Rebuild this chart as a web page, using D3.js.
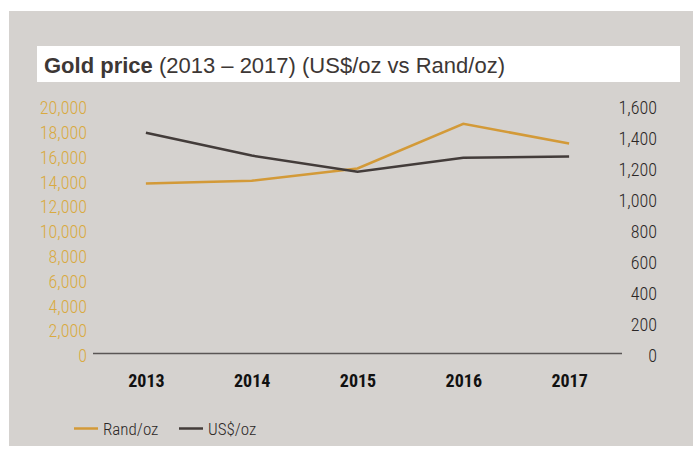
<!DOCTYPE html>
<html>
<head>
<meta charset="utf-8">
<script src="https://cdn.jsdelivr.net/npm/d3@7"></script>
<style>
  body { margin: 0; background: #fff; }
  svg text { font-family: "Liberation Sans Narrow", "Roboto Condensed", "Liberation Sans", sans-serif; }
</style>
</head>
<body>
<svg id="chart" width="693" height="455"></svg>
<script>
// Chart data
const years = ["2013", "2014", "2015", "2016", "2017"];
const rand_oz = [13710, 13930, 14920, 18520, 16940];
const usd_oz = [1424, 1277, 1172, 1263, 1271];
const left_ticks = [0, 2000, 4000, 6000, 8000, 10000, 12000, 14000, 16000, 18000, 20000];
const right_ticks = [0, 200, 400, 600, 800, 1000, 1200, 1400, 1600];

const gold = "#d39a38";
const gold_text = "#d9aa3f";
const dark = "#433c3a";

const svg = d3.select("#chart");

// grey panel + white title strip
svg.append("rect")
    .attr("x", 9).attr("y", 11)
    .attr("width", 684).attr("height", 435)
    .attr("fill", "#d5d2cf");
svg.append("rect")
    .attr("x", 37).attr("y", 46)
    .attr("width", 643).attr("height", 36)
    .attr("fill", "#fff");

const title = svg.append("text")
    .attr("x", 44).attr("y", 73)
    .style("font-family", "'Liberation Sans', Arial, sans-serif")
    .style("font-size", "22px")
    .attr("fill", "#3d3735");
title.append("tspan").style("font-weight", "bold").text("Gold price");
title.append("tspan")
    .style("font-weight", "300")
    .text(" (2013 \u2013 2017) (US$/oz vs Rand/oz)");

const x = d3.scalePoint()
    .domain(years)
    .range([93, 622])
    .padding(0.5);

const yLeft = d3.scaleLinear().domain([0, 20000]).range([353.5, 105.5]);
const yRight = d3.scaleLinear().domain([0, 1600]).range([353.5, 105.5]);

// left axis (Rand)
const leftAxis = svg.append("g")
    .attr("transform", "translate(87,0)")
    .call(d3.axisLeft(yLeft).tickValues(left_ticks).tickSize(0).tickPadding(0).tickFormat(d3.format(",")));
leftAxis.select(".domain").remove();
leftAxis.selectAll("text")
    .attr("fill", gold_text)
    .attr("dy", "0.45em")
    .style("font-size", "18px")
    .style("font-weight", "300");

// right axis (US$)
const rightAxis = svg.append("g")
    .attr("transform", "translate(657,0)")
    .call(d3.axisLeft(yRight).tickValues(right_ticks).tickSize(0).tickPadding(0).tickFormat(d3.format(",")));
rightAxis.select(".domain").remove();
rightAxis.selectAll("text")
    .attr("fill", "#2b2726")
    .attr("dy", "0.45em")
    .style("font-size", "18px")
    .style("font-weight", "300");

// baseline
svg.append("line")
    .attr("x1", 93).attr("x2", 622)
    .attr("y1", yLeft(0)).attr("y2", yLeft(0))
    .attr("stroke", "#5a5655")
    .attr("stroke-width", 1.5);

// year labels
const bottomAxis = svg.append("g")
    .attr("transform", "translate(0,374)")
    .call(d3.axisBottom(x).tickSize(0).tickPadding(0));
bottomAxis.select(".domain").remove();
bottomAxis.selectAll("text")
    .attr("fill", "#111")
    .attr("dy", "0.71em")
    .style("font-size", "18px")
    .style("font-weight", "bold");

// lines
const randLine = d3.line()
    .x((d, i) => x(years[i]))
    .y((d) => yLeft(d));
const usdLine = d3.line()
    .x((d, i) => x(years[i]))
    .y((d) => yRight(d));

svg.append("path")
    .attr("d", randLine(rand_oz))
    .attr("fill", "none")
    .attr("stroke", gold)
    .attr("stroke-width", 2.5);
svg.append("path")
    .attr("d", usdLine(usd_oz))
    .attr("fill", "none")
    .attr("stroke", dark)
    .attr("stroke-width", 2.5);

// legend
const legend_items = [
    {label: "Rand/oz", color: gold, x: 74},
    {label: "US$/oz", color: dark, x: 179}
];
const legend = svg.append("g");
legend.selectAll("line")
    .data(legend_items)
    .join("line")
    .attr("x1", (d) => d.x).attr("x2", (d) => d.x + 24)
    .attr("y1", 428.5).attr("y2", 428.5)
    .attr("stroke", (d) => d.color)
    .attr("stroke-width", 2.5);
legend.selectAll("text")
    .data(legend_items)
    .join("text")
    .attr("x", (d) => d.x + 29)
    .attr("y", 434.5)
    .attr("fill", "#2b2726")
    .style("font-size", "17px")
    .style("font-weight", "300")
    .text((d) => d.label);
</script>
</body>
</html>
